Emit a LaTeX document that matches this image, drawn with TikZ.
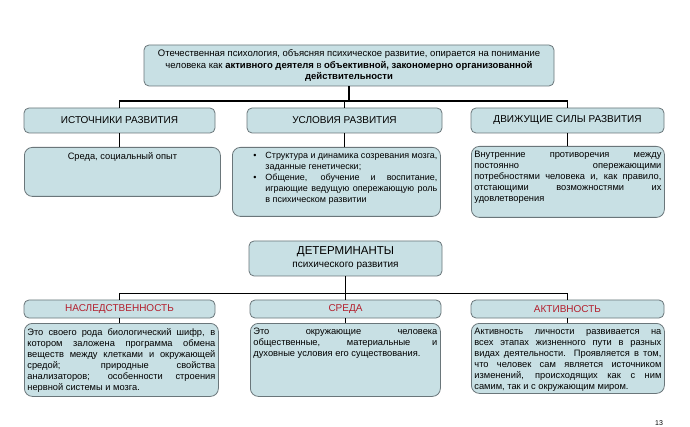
\documentclass[tikz,border=0pt]{standalone}
\usepackage{fontspec}
\setmainfont{Liberation Sans}
\definecolor{boxblue}{HTML}{C8E0E4}
\definecolor{boxline}{HTML}{6A767A}
\definecolor{headred}{HTML}{B3202E}
\newcommand\jl[2]{\makebox[#1][s]{#2}\\}
\newcommand\bul[1]{\hspace*{18pt}\makebox[12pt][l]{\textbullet}\makebox[172pt][s]{#1}\\}
\newcommand\cnt[1]{\hspace*{30pt}#1\\}
\newcommand\jcnt[1]{\hspace*{30pt}\makebox[172pt][s]{#1}\\}
\tikzset{
  hbox/.style={draw=boxline, line width=0.8pt, fill=boxblue, rounded corners=5pt, inner sep=0pt, font=\fontsize{10}{12}\selectfont, align=center},
  cbox/.style={draw=boxline, line width=0.8pt, fill=boxblue, rounded corners=8pt, inner xsep=3pt, inner ysep=5pt, anchor=north west, font=\fontsize{9.3}{11}\selectfont},
  conn/.style={draw=black, line width=1.6pt}
}
\begin{document}
\begin{tikzpicture}[x=1pt,y=-1pt]
\useasboundingbox (0,0) rectangle (690,427);
\fill[white] (0,0) rectangle (690,427);
% top box
\node[hbox, minimum width=410pt, minimum height=41pt, font=\fontsize{9.5}{11.8}\selectfont] (top) at (349,65.5)
  {Отечественная психология, объясняя психическое развитие, опирается на понимание\\
   человека как \textbf{активного деятеля} в \textbf{объективной, закономерно организованной}\\
   \textbf{действительности}};
% level 1 headers
\node[hbox, minimum width=191pt, minimum height=25pt] (h1) at (119.5,120.5) {ИСТОЧНИКИ РАЗВИТИЯ};
\node[hbox, minimum width=195pt, minimum height=25pt] (h2) at (344.5,120.5) {УСЛОВИЯ РАЗВИТИЯ};
\node[hbox, minimum width=193pt, minimum height=25pt] (h3) at (567.5,120.5) {ДВИЖУЩИЕ СИЛЫ РАЗВИТИЯ};
% level 1 contents
\node[cbox] (c1) at (24,147) {\parbox[t][39pt][t]{190pt}{\centering Среда, социальный опыт}};
\node[cbox, font=\fontsize{9}{11}\selectfont] (c2) at (232,147) {\parbox[t][59pt][t]{202pt}{\raggedright
  \bul{Структура и динамика созревания мозга,}
  \cnt{заданные генетически;}
  \bul{Общение, обучение и воспитание,}
  \jcnt{играющие ведущую опережающую роль}
  \cnt{в психическом развитии}}};
\node[cbox] (c3) at (471,146) {\parbox[t][61pt][t]{187pt}{\raggedright
  \jl{187pt}{Внутренние противоречия между}
  \jl{187pt}{постоянно опережающими}
  \jl{187pt}{потребностями человека и, как правило,}
  \jl{187pt}{отстающими возможностями их}
  удовлетворения}};
% connectors level 1
\draw[conn] (top.south) -- ++(0,14.5) coordinate (j1);
\draw[conn] (h1.north) |- (j1) -| (h3.north);
\draw[conn] (h2.north) -- (h2.north |- j1);
\draw[conn] (h1.south) -- (h1.south |- c1.north);
\draw[conn] (h2.south) -- (h2.south |- c2.north);
\draw[conn] (h3.south) -- (h3.south |- c3.north);
% determinants
\node[hbox, minimum width=193pt, minimum height=35pt] (det) at (345.5,258.5)
  {{\fontsize{11.5}{13}\selectfont ДЕТЕРМИНАНТЫ}\\[1pt]психического развития};
% level 2 headers
\node[hbox, minimum width=191pt, minimum height=18pt, text=headred] (r1) at (119.5,309) {НАСЛЕДСТВЕННОСТЬ};
\node[hbox, minimum width=191pt, minimum height=18pt, text=headred] (r2) at (345.5,309) {СРЕДА};
\node[hbox, minimum width=193pt, minimum height=18pt, text=headred] (r3) at (567.5,309) {АКТИВНОСТЬ};
% level 2 contents
\node[cbox] (c4) at (24,323) {\parbox[t][63pt][t]{188pt}{\raggedright
  \jl{188pt}{Это своего рода биологический шифр, в}
  \jl{188pt}{котором заложена программа обмена}
  \jl{188pt}{веществ между клетками и окружающей}
  \jl{188pt}{средой; природные свойства}
  \jl{188pt}{анализаторов; особенности строения}
  нервной системы и мозга.}};
\node[cbox] (c5) at (250,323) {\parbox[t][63pt][t]{184pt}{\raggedright
  \jl{184pt}{Это окружающие человека}
  \jl{184pt}{общественные, материальные и}
  духовные условия его существования.}};
\node[cbox] (c6) at (471,323) {\parbox[t][60pt][t]{187pt}{\raggedright
  \jl{187pt}{Активность личности развивается на}
  \jl{187pt}{всех этапах жизненного пути в разных}
  \jl{187pt}{видах деятельности. Проявляется в том,}
  \jl{187pt}{что человек сам является источником}
  \jl{187pt}{изменений, происходящих как с ним}
  самим, так и с окружающим миром.}};
% connectors level 2
\draw[conn] (det.south) -- ++(0,17) coordinate (j2);
\draw[conn] (r1.north) |- (j2) -| (r3.north);
\draw[conn] (r2.north) -- (r2.north |- j2);
\draw[conn] (r1.south) -- (r1.south |- c4.north);
\draw[conn] (r2.south) -- (r2.south |- c5.north);
\draw[conn] (r3.south) -- (r3.south |- c6.north);
% page number
\node[font=\fontsize{7}{8}\selectfont, anchor=south, inner sep=0.5pt] (pg) at (659,426.5) {13};
\end{tikzpicture}
\end{document}
